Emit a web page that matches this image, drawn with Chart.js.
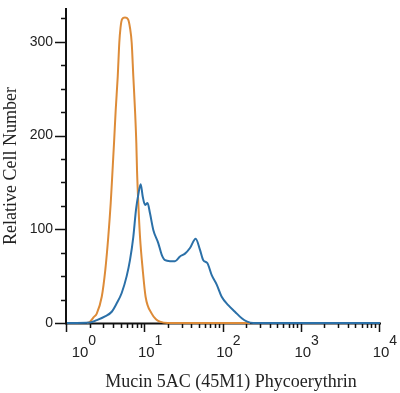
<!DOCTYPE html>
<html>
<head>
<meta charset="utf-8">
<script src="https://cdn.jsdelivr.net/npm/chart.js@4.4.1/dist/chart.umd.min.js"></script>
<style>
  html, body { margin: 0; padding: 0; background: #fff; }
  #wrap { width: 400px; height: 393px; position: relative; }
</style>
</head>
<body>
<div id="wrap"><canvas id="histogram"></canvas></div>
<script>
// isotype control (orange)
const isoX = [1.80, 1.97, 2.18, 2.40, 2.78, 3.09, 3.37, 3.62, 3.82, 3.99, 4.19, 4.45, 4.66, 4.83, 5.05, 5.51, 6.02, 6.38, 6.71, 7.04, 7.40, 7.69, 7.85, 8.15, 8.57, 9.28, 10.1, 12.1, 13.7, 15.4, 19.5, 218];
const isoY = [0, 1.4, 6, 10, 28, 57, 92, 128, 163, 192, 227, 263, 299, 315, 324, 326, 324, 315, 299, 263, 227, 192, 163, 128, 92, 57, 28, 10, 4, 1.4, 0, 0];

// Mucin 5AC stained cells (blue)
const smpX = [1, 1.97, 2.40, 3.06, 3.73, 4.32, 5.00, 5.79, 6.38, 7.04, 7.62, 8.15, 8.75, 9.28, 9.93, 10.7, 11.5, 12.7, 14.7, 16.2, 17.9, 20.7, 24.0, 27.8, 32.2, 37.3, 44.1, 50.1, 55.2, 62.1, 70.7, 81.9, 94.8, 115, 140, 171, 201, 240, 10000];
const smpY = [0, 0.5, 3, 7, 12, 21, 32, 50, 67, 92, 121, 137, 148, 135, 126, 128, 117, 99, 85, 73, 67, 66, 66, 71, 74, 80, 90, 78, 67, 64, 51, 41, 28, 19, 12, 5, 1.4, 0, 0];

const yLabels = [0, 100, 200, 300];
const yMinor = [25, 50, 75, 125, 150, 175, 225, 250, 275, 325];
const xDecades = [0, 1, 2, 3, 4];
const xMinorSteps = [2, 3, 4, 5, 6, 7, 8, 9];

const xTitle = 'Mucin 5AC (45M1) Phycoerythrin';
const yTitle = 'Relative Cell Number';

const blue = '#2b70a8';
const orange = '#dd8b38';
const axisColor = '#111';
const textColor = '#222';

const toPoints = (xs, ys) => xs.map((x, i) => ({ x: x, y: ys[i] }));

const axesPlugin = {
    id: 'axesPlugin',
    beforeDatasetsDraw(chart) {
        const { ctx, chartArea: area, scales: { x, y } } = chart;
        ctx.save();
        ctx.strokeStyle = axisColor;
        ctx.lineWidth = 2;
        ctx.beginPath();
        ctx.moveTo(area.left - 1, area.top - 1);
        ctx.lineTo(area.left - 1, area.bottom + 1);
        ctx.moveTo(area.left - 2, area.bottom + 0.5);
        ctx.lineTo(area.right + 1, area.bottom + 0.5);
        ctx.stroke();

        ctx.lineWidth = 1.5;
        ctx.beginPath();
        yLabels.forEach(v => {
            const py = Math.round(y.getPixelForValue(v)) + 0.5;
            ctx.moveTo(area.left - 12, py);
            ctx.lineTo(area.left, py);
        });
        yMinor.forEach(v => {
            const py = Math.round(y.getPixelForValue(v)) + 0.5;
            ctx.moveTo(area.left - 6, py);
            ctx.lineTo(area.left, py);
        });
        xDecades.forEach(d => {
            const px = Math.round(x.getPixelForValue(Math.pow(10, d))) - 0.5;
            ctx.moveTo(px, area.bottom);
            ctx.lineTo(px, area.bottom + 9);
            if (d < 4) {
                xMinorSteps.forEach(m => {
                    const mx = Math.round(x.getPixelForValue(m * Math.pow(10, d))) - 0.5;
                    ctx.moveTo(mx, area.bottom);
                    ctx.lineTo(mx, area.bottom + 5);
                });
            }
        });
        ctx.stroke();

        // decade labels 10^n
        ctx.fillStyle = textColor;
        ctx.textBaseline = 'alphabetic';
        xDecades.forEach(d => {
            let cx = x.getPixelForValue(Math.pow(10, d)) + 1;
            if (d === 0) cx += 12;
            ctx.font = '15px "Liberation Sans", Arial, sans-serif';
            ctx.textAlign = 'center';
            ctx.fillText('10', cx, area.bottom + 34);
            const w = ctx.measureText('10').width;
            ctx.font = '14px "Liberation Sans", Arial, sans-serif';
            ctx.textAlign = 'left';
            ctx.fillText(String(d), cx + w / 2, area.bottom + 22);
        });

        ctx.font = '18px "Liberation Serif", "Times New Roman", serif';
        ctx.textAlign = 'center';
        ctx.fillText(xTitle, 231, 387);
        ctx.restore();
    }
};

new Chart(document.getElementById('histogram'), {
    type: 'line',
    data: {
        datasets: [
            {
                label: 'Mucin 5AC',
                data: toPoints(smpX, smpY),
                borderColor: blue,
                borderWidth: 2,
                pointRadius: 0,
                cubicInterpolationMode: 'monotone',
                clip: false
            },
            {
                label: 'Isotype control',
                data: toPoints(isoX, isoY),
                borderColor: orange,
                borderWidth: 2,
                pointRadius: 0,
                cubicInterpolationMode: 'monotone',
                clip: false
            }
        ]
    },
    options: {
        responsive: true,
        maintainAspectRatio: false,
        devicePixelRatio: 1,
        animation: false,
        layout: { padding: { left: 0, right: 20, top: 9, bottom: 0 } },
        plugins: {
            legend: { display: false },
            tooltip: { enabled: false }
        },
        scales: {
            x: {
                type: 'logarithmic',
                min: 1,
                max: 10000,
                ticks: { display: false },
                grid: { display: false },
                border: { display: false },
                afterFit: (s) => { s.height = 70; s.paddingLeft = 0; s.paddingRight = 0; }
            },
            y: {
                min: 0,
                max: 335,
                afterBuildTicks: (s) => { s.ticks = yLabels.map(v => ({ value: v })); },
                ticks: {
                    padding: 14,
                    color: textColor,
                    font: { family: '"Liberation Sans", Arial, sans-serif', size: 14 }
                },
                grid: { display: false, drawTicks: false },
                border: { display: false },
                title: {
                    display: true,
                    text: yTitle,
                    color: textColor,
                    padding: { top: 0, bottom: 0 },
                    font: { family: '"Liberation Serif", "Times New Roman", serif', size: 18 }
                },
                afterFit: (s) => { s.width = 67; s.paddingTop = 0; s.paddingBottom = 0; }
            }
        }
    },
    plugins: [axesPlugin]
});
</script>
</body>
</html>
